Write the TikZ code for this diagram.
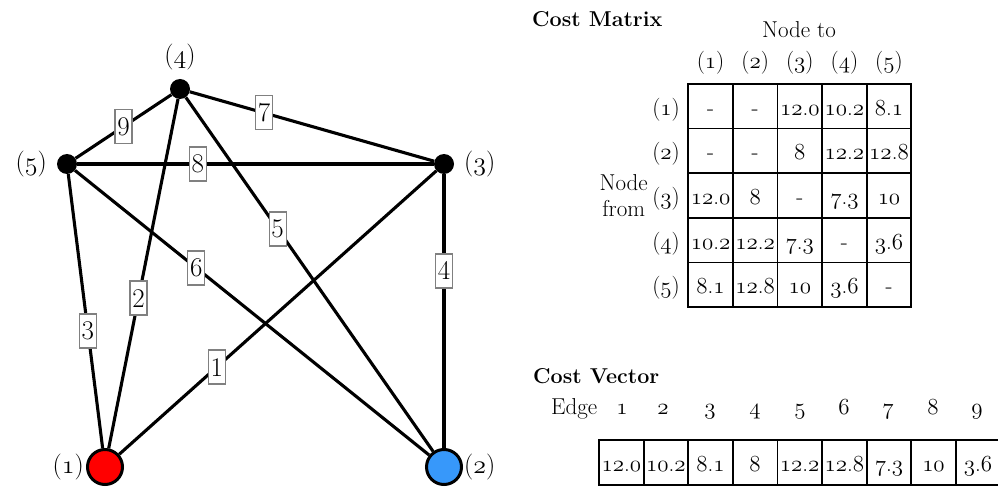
\RequirePackage{fix-cm}
\documentclass[tikz,border=0pt]{standalone}
\usetikzlibrary{calc}
\definecolor{nodered}{RGB}{255,0,0}
\definecolor{nodeblue}{RGB}{55,152,250}
\newcommand\osn[1]{{\usefont{OML}{cmm}{m}{it}#1}}
\newcommand\tv[2]{\osn{#1}.\osn{#2}}
\newcommand\pl[1]{(\osn{#1})}
\newcommand\tfont{\fontsize{23}{26}\selectfont}
\begin{document}
\begin{tikzpicture}[x=1pt,y=-1pt,
  edge/.style={line width=3.1pt},
  elab/.style={draw=gray, line width=1.3pt, fill=white, minimum width=17pt, minimum height=34pt, inner sep=0pt, text height=18pt, text depth=0pt, font=\fontsize{27}{30}\selectfont},
  dotnode/.style={circle, fill=black, minimum size=20pt, inner sep=0pt},
  bignode/.style={circle, draw=black, line width=3pt, minimum size=35pt, inner sep=0pt},
  nlab/.style={inner sep=0pt, font=\fontsize{26}{30}\selectfont},
  tcell/.style={draw, line width=1.8pt, minimum width=44.6pt, minimum height=44.6pt, inner sep=0pt, text height=18pt, text depth=0pt, font=\tfont},
  ttext/.style={inner sep=0pt, font=\tfont},
  head/.style={inner sep=0pt, font=\fontsize{21.5}{25}\selectfont\bfseries},
]
\fill[white] (0,0) rectangle (998,489);
\path[use as bounding box] (0,0) rectangle (998,489);

% graph nodes
\node[bignode, fill=nodered] (n1) at (105,467) {};
\node[bignode, fill=nodeblue] (n2) at (444,467) {};
\node[dotnode] (n3) at (444,164) {};
\node[dotnode] (n4) at (180,89) {};
\node[dotnode] (n5) at (67,164) {};

\node[nlab, anchor=east] (l1) at (84,467) {\pl{1}};
\node[nlab, anchor=west] (l2) at (464,467) {\pl{2}};
\node[nlab, anchor=west] (l3) at (464,164) {\pl{3}};
\node[nlab] (l4) at (180,57) {\pl{4}};
\node[nlab, anchor=east] (l5) at (47,164) {\pl{5}};

% edges
\draw[edge] (n1) -- (n3);
\draw[edge] (n1) -- (n4);
\draw[edge] (n1) -- (n5);
\draw[edge] (n3) -- (n2);
\draw[edge] (n4) -- (n2);
\draw[edge] (n5) -- (n2);
\draw[edge] (n4) -- (n3);
\draw[edge] (n5) -- (n3);
\draw[edge] (n5) -- (n4);

% edge labels
\node[elab] (e1) at ($(n1)!0.33!(n3)$) {1};
\node[elab] (e2) at ($(n1)!0.447!(n4)$) {2};
\node[elab] (e3) at ($(n1)!0.449!(n5)$) {3};
\node[elab] (e4) at ($(n3)!0.353!(n2)$) {4};
\node[elab] (e5) at ($(n4)!0.37!(n2)$) {5};
\node[elab] (e6) at ($(n5)!0.343!(n2)$) {6};
\node[elab] (e7) at ($(n4)!0.318!(n3)$) {7};
\node[elab] (e8) at ($(n5)!0.347!(n3)$) {8};
\node[elab] (e9) at ($(n5)!0.5!(n4)$) {9};

% cost matrix
\node[head, anchor=base west] (cm) at (532,27) {Cost Matrix};
\node[ttext, anchor=base] (nodeto) at (799,38) {Node to};
\node[ttext, anchor=east, align=center] (nodefrom) at (648,196) {Node\\from};

\node[ttext, anchor=base] (h1) at (710.6,69) {\pl{1}};
\node[ttext, anchor=base] (h2) at (755.2,69) {\pl{2}};
\node[ttext, anchor=base] (h3) at (799.8,69) {\pl{3}};
\node[ttext, anchor=base] (h4) at (844.4,69) {\pl{4}};
\node[ttext, anchor=base] (h5) at (889.0,69) {\pl{5}};

\node[ttext, anchor=east, text height=18pt, text depth=0pt] (r1) at (680,106.3) {\pl{1}};
\node[ttext, anchor=east, text height=18pt, text depth=0pt] (r2) at (680,150.9) {\pl{2}};
\node[ttext, anchor=east, text height=18pt, text depth=0pt] (r3) at (680,195.5) {\pl{3}};
\node[ttext, anchor=east, text height=18pt, text depth=0pt] (r4) at (680,240.1) {\pl{4}};
\node[ttext, anchor=east, text height=18pt, text depth=0pt] (r5) at (680,284.7) {\pl{5}};

\node[tcell] (m11) at (710.6,106.3) {-};
\node[tcell] (m12) at (755.2,106.3) {-};
\node[tcell] (m13) at (799.8,106.3) {\tv{12}{0}};
\node[tcell] (m14) at (844.4,106.3) {\tv{10}{2}};
\node[tcell] (m15) at (889.0,106.3) {\tv{8}{1}};

\node[tcell] (m21) at (710.6,150.9) {-};
\node[tcell] (m22) at (755.2,150.9) {-};
\node[tcell] (m23) at (799.8,150.9) {\osn{8}};
\node[tcell] (m24) at (844.4,150.9) {\tv{12}{2}};
\node[tcell] (m25) at (889.0,150.9) {\tv{12}{8}};

\node[tcell] (m31) at (710.6,195.5) {\tv{12}{0}};
\node[tcell] (m32) at (755.2,195.5) {\osn{8}};
\node[tcell] (m33) at (799.8,195.5) {-};
\node[tcell] (m34) at (844.4,195.5) {\tv{7}{3}};
\node[tcell] (m35) at (889.0,195.5) {\osn{10}};

\node[tcell] (m41) at (710.6,240.1) {\tv{10}{2}};
\node[tcell] (m42) at (755.2,240.1) {\tv{12}{2}};
\node[tcell] (m43) at (799.8,240.1) {\tv{7}{3}};
\node[tcell] (m44) at (844.4,240.1) {-};
\node[tcell] (m45) at (889.0,240.1) {\tv{3}{6}};

\node[tcell] (m51) at (710.6,284.7) {\tv{8}{1}};
\node[tcell] (m52) at (755.2,284.7) {\tv{12}{8}};
\node[tcell] (m53) at (799.8,284.7) {\osn{10}};
\node[tcell] (m54) at (844.4,284.7) {\tv{3}{6}};
\node[tcell] (m55) at (889.0,284.7) {-};

% cost vector
\node[head, anchor=base west] (cv) at (533,383) {Cost Vector};
\node[ttext, anchor=base west] (edgelab) at (551,414) {Edge};
\node[ttext, anchor=base] (en1) at (622,414) {\osn{1}};
\node[ttext, anchor=base] (en2) at (663,414) {\osn{2}};
\node[ttext, anchor=base] (en3) at (710,414) {\osn{3}};
\node[ttext, anchor=base] (en4) at (755,414) {\osn{4}};
\node[ttext, anchor=base] (en5) at (800,414) {\osn{5}};
\node[ttext, anchor=base] (en6) at (844,414) {\osn{6}};
\node[ttext, anchor=base] (en7) at (888,414) {\osn{7}};
\node[ttext, anchor=base] (en8) at (933,414) {\osn{8}};
\node[ttext, anchor=base] (en9) at (977,414) {\osn{9}};

\node[tcell] (v1) at (621.3,462.5) {\tv{12}{0}};
\node[tcell] (v2) at (665.9,462.5) {\tv{10}{2}};
\node[tcell] (v3) at (710.5,462.5) {\tv{8}{1}};
\node[tcell] (v4) at (755.1,462.5) {\osn{8}};
\node[tcell] (v5) at (799.7,462.5) {\tv{12}{2}};
\node[tcell] (v6) at (844.3,462.5) {\tv{12}{8}};
\node[tcell] (v7) at (888.9,462.5) {\tv{7}{3}};
\node[tcell] (v8) at (933.5,462.5) {\osn{10}};
\node[tcell] (v9) at (978.1,462.5) {\tv{3}{6}};
\end{tikzpicture}
\end{document}
